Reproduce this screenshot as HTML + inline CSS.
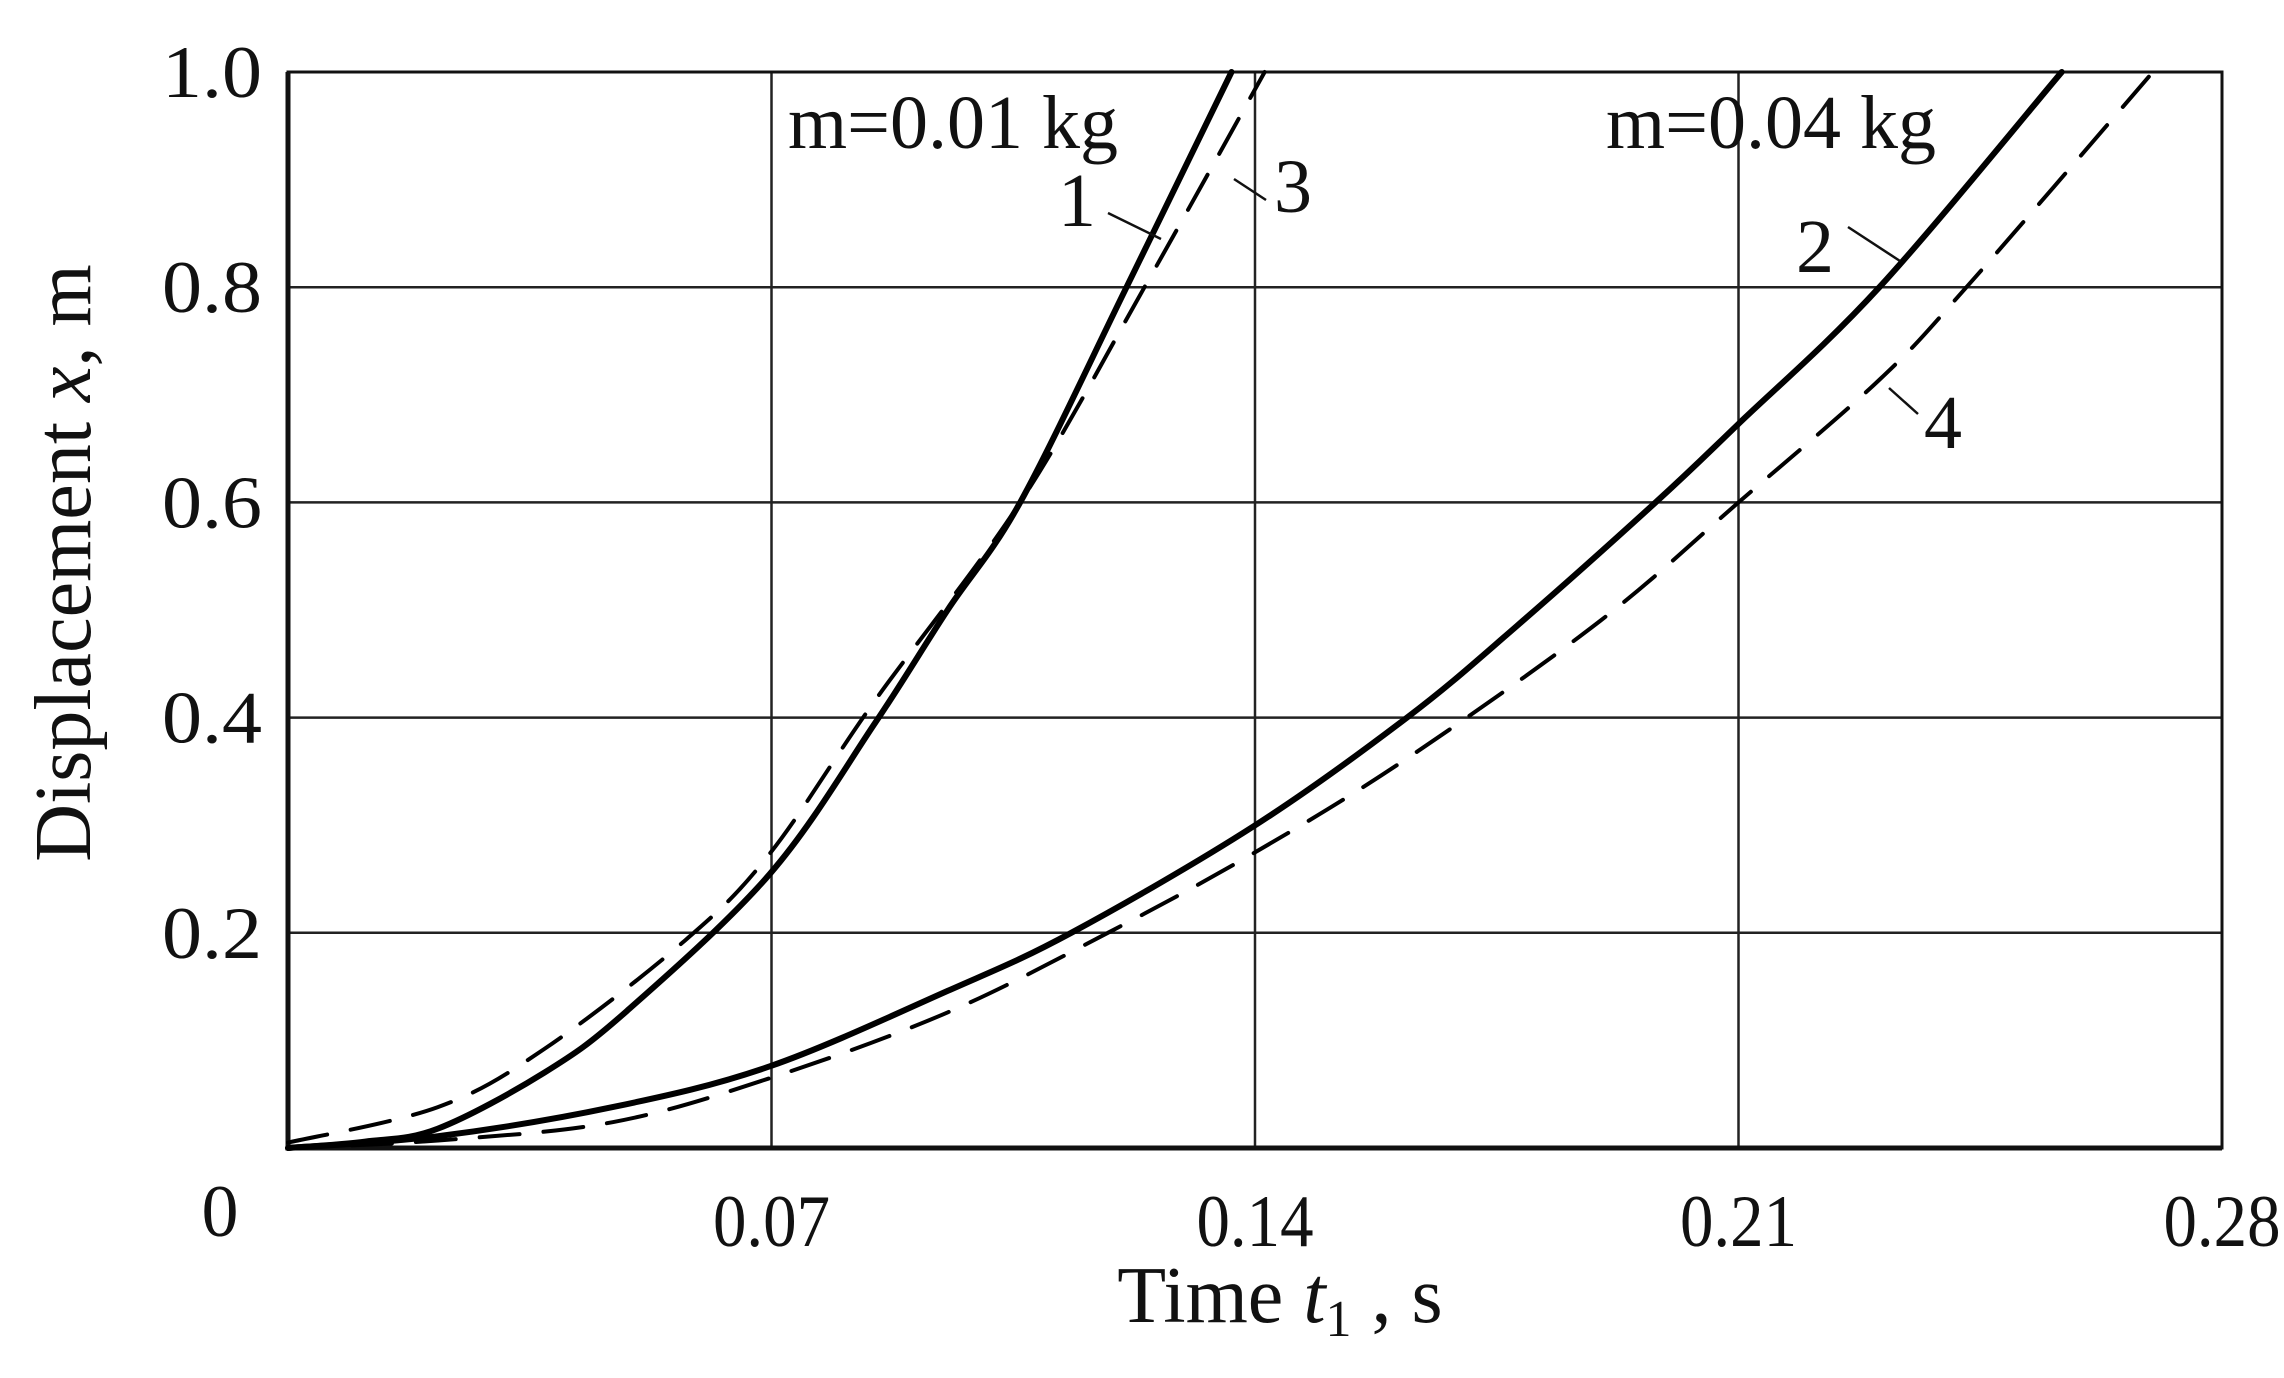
<!DOCTYPE html>
<html><head><meta charset="utf-8"><style>
html,body{margin:0;padding:0;background:#fff;}
svg{display:block;}
text{font-family:"Liberation Serif",serif;fill:#111;}
</style></head><body>
<svg id="chart" width="2284" height="1378" viewBox="0 0 2284 1378">
<g id="grid"></g>
<g id="curves"></g>
<g id="labels"></g>
<text x="953" y="148" font-size="76" text-anchor="middle">m=0.01 kg</text>
<text x="1771" y="148" font-size="76" text-anchor="middle">m=0.04 kg</text>
<text x="1058" y="226" font-size="76">1</text>
<line x1="1108" y1="213" x2="1161" y2="239" stroke="#111" stroke-width="2.5"/>
<text x="1274" y="212" font-size="76">3</text>
<line x1="1234" y1="179" x2="1266" y2="200" stroke="#111" stroke-width="2.5"/>
<text x="1796" y="272" font-size="76">2</text>
<line x1="1848" y1="227" x2="1900" y2="261" stroke="#111" stroke-width="2.5"/>
<text x="1924" y="448" font-size="76">4</text>
<line x1="1889" y1="388" x2="1918" y2="414" stroke="#111" stroke-width="2.5"/>
<text x="1280" y="1322" font-size="80" text-anchor="middle">Time <tspan font-style="italic">t</tspan><tspan font-size="52" dy="14">1</tspan><tspan dy="-14"> , s</tspan></text>
<text transform="translate(90,563) rotate(-90)" font-size="80" text-anchor="middle">Displacement  <tspan font-style="italic">x</tspan>, m</text>
</svg>
<script>
const xTicks=[0,0.07,0.14,0.21,0.28];
const xTickLabels=["0","0.07","0.14","0.21","0.28"];
const yTicks=[0.2,0.4,0.6,0.8,1.0];
const yTickLabels=["0.2","0.4","0.6","0.8","1.0"];
const t1=[0,0.0112,0.0217,0.0371,0.049,0.0698,0.085,0.0955,0.106,0.1214,0.1366];
const x1=[0,0.006,0.018,0.07,0.127,0.255,0.395,0.5,0.6,0.8,1.0];
const t3=[0,0.0217,0.0371,0.0575,0.0698,0.085,0.106,0.124,0.1414];
const x3=[0.005,0.038,0.092,0.193,0.274,0.416,0.6,0.8,1.0];
const t2=[0,0.0217,0.047,0.0698,0.0955,0.1134,0.1398,0.162,0.1777,0.198,0.21,0.2304,0.2568];
const x2=[0,0.011,0.038,0.076,0.146,0.2,0.299,0.4,0.484,0.6,0.673,0.8,1.0];
const t4=[0,0.0217,0.047,0.0698,0.0955,0.1187,0.1398,0.162,0.19,0.21,0.2304,0.243,0.27];
const x4=[0,0.007,0.024,0.065,0.126,0.2,0.274,0.362,0.49,0.6,0.714,0.8,1.0];
const L=288,R=2222,T=72,B=1148;
const sx=v=>L+v/0.28*(R-L), sy=v=>B-v*(B-T);
const NS="http://www.w3.org/2000/svg";
const grid=document.getElementById('grid'),curves=document.getElementById('curves'),labels=document.getElementById('labels');
function mk(tag,attrs,parent){const e=document.createElementNS(NS,tag);for(const k in attrs)e.setAttribute(k,attrs[k]);parent.appendChild(e);return e;}
xTicks.forEach((v,i)=>{
  if(v>0&&v<0.28){const g=mk('line',{x1:sx(v),x2:sx(v),y1:T,y2:B,stroke:'#222','stroke-width':2.5},grid);
  
  }
  const a={x:i==0?220:sx(v),y:i==0?1236:1246,'font-size':74,'text-anchor':'middle'};
  if(i>0){a.textLength=117;a.lengthAdjust='spacingAndGlyphs';}
  const tx=mk('text',a,labels);
  tx.textContent=xTickLabels[i];
  
  
});
yTicks.forEach((v,i)=>{
  if(v<1){const g=mk('line',{x1:L,x2:R,y1:sy(v),y2:sy(v),stroke:'#222','stroke-width':2.5},grid);
  
  }
  const tx=mk('text',{x:262,y:sy(v)+25,'font-size':74,'text-anchor':'end',textLength:100,lengthAdjust:'spacingAndGlyphs'},labels);
  tx.textContent=yTickLabels[i];
  
  
});
const fr=mk('path',{d:`M${L},${T}H${R}V${B}H${L}Z`,fill:'none',stroke:'#111','stroke-width':3},grid);


const ax=mk('path',{d:`M${L},${T}V${B}H${R}`,fill:'none',stroke:'#111','stroke-width':5},grid);


function pathFor(ts,xs){
  const p=ts.map((t,i)=>[sx(t),sy(xs[i])]);
  let d=`M${p[0][0]},${p[0][1]}`;
  for(let i=0;i<p.length-1;i++){
    const p0=p[Math.max(0,i-1)],p1=p[i],p2=p[i+1],p3=p[Math.min(p.length-1,i+2)];
    const c1=[p1[0]+(p2[0]-p0[0])/6,p1[1]+(p2[1]-p0[1])/6];
    const c2=[p2[0]-(p3[0]-p1[0])/6,p2[1]-(p3[1]-p1[1])/6];
    d+=` C${c1[0]},${c1[1]} ${c2[0]},${c2[1]} ${p2[0]},${p2[1]}`;
  }
  return d;
}
[[t1,x1,false,'curve-1'],[t3,x3,true,'curve-3'],[t2,x2,false,'curve-2'],[t4,x4,true,'curve-4']].forEach(([ts,xs,dash,name])=>{
  const a={d:pathFor(ts,xs),fill:'none',stroke:'#000','stroke-width':dash?4:6,'stroke-linecap':'round'};
  if(dash)a['stroke-dasharray']='40 24';
  const e=mk('path',a,curves);
  
  
});
</script>
</body></html>
